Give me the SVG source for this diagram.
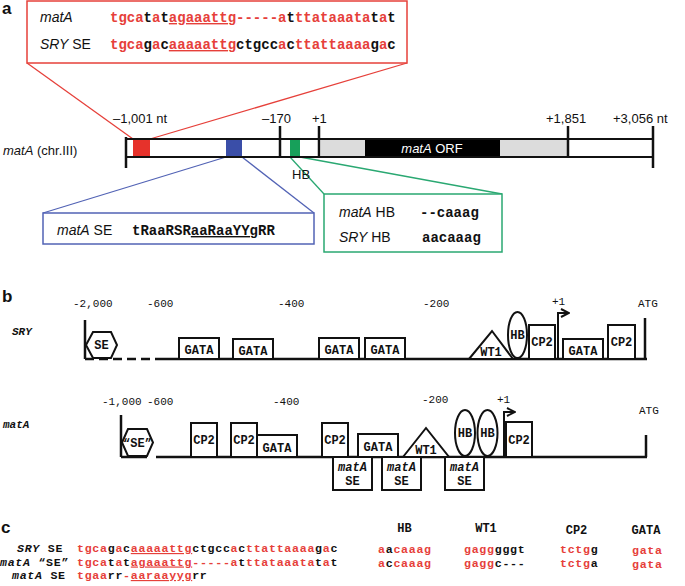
<svg xmlns="http://www.w3.org/2000/svg" width="685" height="586" viewBox="0 0 685 586">
<defs>
<style>
.sa{font-family:"Liberation Sans",Arial,sans-serif}
.mono{font-family:"Liberation Mono","Courier New",monospace}
.b{font-weight:bold}
.i{font-style:italic}
.r{fill:#e6403a}
.k{fill:#111}
.u{text-decoration:underline}
.sh{fill:#fff;stroke:#111;stroke-width:2}
.ax{stroke:#111;stroke-width:2.5;fill:none}
.tk{stroke:#111;stroke-width:2.5}
.bl{font-family:"Liberation Mono","Courier New",monospace;font-weight:bold;font-size:12px;fill:#111;text-anchor:middle}
.pos{font-family:"Liberation Mono","Courier New",monospace;font-size:11px;fill:#111}
.lab{font-family:"Liberation Sans",Arial,sans-serif;font-size:13px;fill:#111}
.cs{font-family:"Liberation Mono","Courier New",monospace;font-weight:bold;font-size:11.6px;letter-spacing:0.72px}
</style>
<marker id="arr" viewBox="0 0 10 10" refX="8" refY="5" markerWidth="10" markerHeight="10" markerUnits="userSpaceOnUse" orient="auto">
<path d="M1,1 L9,5 L1,9" fill="none" stroke="#111" stroke-width="2"/>
</marker>
</defs>
<rect width="685" height="586" fill="#fff"/>

<!-- Panel a -->
<text x="2" y="14" class="sa b" font-size="17" fill="#111">a</text>

<g id="connectors">
<line x1="27" y1="63" x2="133" y2="139" stroke="#e6403a" stroke-width="1.3"/>
<line x1="407" y1="63" x2="150" y2="139" stroke="#e6403a" stroke-width="1.3"/>
<line x1="43" y1="213" x2="226" y2="157" stroke="#5263b5" stroke-width="1.3"/>
<line x1="314" y1="213" x2="242" y2="157" stroke="#5263b5" stroke-width="1.3"/>
<line x1="324" y1="194" x2="290" y2="157" stroke="#2aa872" stroke-width="1.3"/>
<line x1="502" y1="194" x2="300" y2="157" stroke="#2aa872" stroke-width="1.3"/>
</g>

<g id="redBox">
<rect x="27" y="1" width="380" height="62" fill="#fff" stroke="#e6403a" stroke-width="1.5"/>
<text x="40" y="22" class="sa i" font-size="14" fill="#111">matA</text>
<text x="40" y="49" class="sa" font-size="14" fill="#111"><tspan class="i">SRY</tspan> SE</text>
<text x="110" y="22" class="mono b" font-size="14"><tspan class="r">tgca</tspan><tspan class="k">t</tspan><tspan class="r">a</tspan><tspan class="k">t</tspan><tspan class="r u">agaaattg</tspan><tspan class="r">-----a</tspan><tspan class="k">t</tspan><tspan class="r">ttataaata</tspan><tspan class="k">t</tspan><tspan class="r">a</tspan><tspan class="k">t</tspan></text>
<text x="110" y="49" class="mono b" font-size="14"><tspan class="r">tgca</tspan><tspan class="k">g</tspan><tspan class="r">a</tspan><tspan class="k">c</tspan><tspan class="r u">aaaaattg</tspan><tspan class="k">ctgcc</tspan><tspan class="r">a</tspan><tspan class="k">c</tspan><tspan class="r">ttattaaaa</tspan><tspan class="k">g</tspan><tspan class="r">a</tspan><tspan class="k">c</tspan></text>
</g>

<g id="matAlocus">
<text x="3" y="155" class="lab"><tspan class="i">matA</tspan> (chr.III)</text>
<rect x="126" y="139" width="527" height="18" fill="#fff" stroke="#111" stroke-width="2"/>
<rect x="321" y="139" width="44" height="18" fill="#dcdcdc"/>
<rect x="365" y="139" width="135" height="18" fill="#000"/>
<rect x="500" y="139" width="68" height="18" fill="#dcdcdc"/>
<rect x="126" y="139" width="527" height="18" fill="none" stroke="#111" stroke-width="2"/>
<text x="432" y="153" class="sa" font-size="13" fill="#fff" text-anchor="middle"><tspan class="i">matA</tspan> ORF</text>
<rect x="133" y="140" width="17" height="16" fill="#e6322b"/>
<rect x="226" y="140" width="16" height="16" fill="#3a4ea8"/>
<rect x="290" y="140" width="10" height="16" fill="#17a05a"/>
<line x1="126" y1="137" x2="126" y2="168" class="tk"/>
<line x1="280" y1="126" x2="280" y2="157" class="tk"/>
<line x1="319" y1="126" x2="319" y2="157" class="tk"/>
<line x1="568" y1="126" x2="568" y2="157" class="tk"/>
<line x1="653" y1="126" x2="653" y2="168" class="tk"/>
<text x="113" y="123" class="lab">–1,001 nt</text>
<text x="262" y="123" class="lab">–170</text>
<text x="312" y="123" class="lab">+1</text>
<text x="546" y="123" class="lab">+1,851</text>
<text x="613" y="123" class="lab">+3,056 nt</text>
<text x="292" y="179" class="lab">HB</text>
</g>

<g id="blueBox">
<rect x="43" y="213" width="271" height="31" fill="#fff" stroke="#5263b5" stroke-width="1.5"/>
<text x="57" y="235" class="sa" font-size="14" fill="#111"><tspan class="i">matA</tspan> SE</text>
<text x="132" y="235" class="mono b" font-size="14" fill="#111">tRaaRSR<tspan class="u">aaRaaYYg</tspan>RR</text>
</g>

<g id="greenBox">
<rect x="324" y="194" width="178" height="58" fill="#fff" stroke="#2aa872" stroke-width="1.5"/>
<text x="339" y="217" class="sa" font-size="14" fill="#111"><tspan class="i">matA</tspan> HB</text>
<text x="339" y="242" class="sa" font-size="14" fill="#111"><tspan class="i">SRY</tspan> HB</text>
<text x="420" y="217" class="mono b" font-size="14" fill="#111">--caaag</text>
<text x="422" y="242" class="mono b" font-size="14" fill="#111">aacaaag</text>
</g>

<!-- Panel b -->
<text x="2" y="302" class="sa b" font-size="17" fill="#111">b</text>

<g id="SRYpromoter">
<text x="12" y="335" class="mono b i" font-size="11" fill="#111">SRY</text>
<text x="73" y="307" class="pos">-2,000</text>
<text x="147" y="307" class="pos">-600</text>
<text x="278" y="307" class="pos">-400</text>
<text x="423" y="307" class="pos">-200</text>
<text x="552" y="305" class="pos">+1</text>
<text x="638" y="307" class="pos">ATG</text>
<line x1="85" y1="320" x2="85" y2="359" class="tk"/>
<line x1="85" y1="359" x2="153" y2="359" class="ax" stroke-dasharray="9,5"/>
<line x1="155" y1="359" x2="647" y2="359" class="ax"/>
<line x1="645" y1="318" x2="645" y2="359" class="tk"/>
<polygon points="86,345 93,332 111,332 117,345 111,358 93,358" class="sh"/>
<text x="101.5" y="349" class="bl" font-size="11">SE</text>
<rect x="179" y="338" width="40" height="21" class="sh"/><text x="199" y="354" class="bl">GATA</text>
<rect x="233" y="339" width="40" height="20" class="sh"/><text x="253" y="355" class="bl">GATA</text>
<rect x="319" y="338" width="40" height="21" class="sh"/><text x="339" y="354" class="bl">GATA</text>
<rect x="365" y="338" width="40" height="21" class="sh"/><text x="385" y="354" class="bl">GATA</text>
<polygon points="469,359 492,331 513,359" class="sh"/><text x="491" y="356" class="bl" font-size="11">WT1</text>
<ellipse cx="517.5" cy="335" rx="9.5" ry="23" class="sh"/><text x="517.5" y="339" class="bl" font-size="10.5">HB</text>
<rect x="529" y="325" width="26" height="34" class="sh"/><text x="542" y="346" class="bl" font-size="11">CP2</text>
<path d="M558,359 V313 H568" fill="none" stroke="#111" stroke-width="2" marker-end="url(#arr)"/>
<rect x="563" y="339" width="40" height="20" class="sh"/><text x="583" y="355" class="bl">GATA</text>
<rect x="608" y="325" width="27" height="34" class="sh"/><text x="621.5" y="346" class="bl" font-size="11">CP2</text>
</g>

<g id="matApromoter">
<text x="3" y="428" class="mono b i" font-size="11" fill="#111">matA</text>
<text x="102" y="405" class="pos">-1,000</text>
<text x="147" y="405" class="pos">-600</text>
<text x="273" y="405" class="pos">-400</text>
<text x="422" y="403" class="pos">-200</text>
<text x="497" y="403" class="pos">+1</text>
<text x="639" y="414" class="pos">ATG</text>
<line x1="121" y1="415" x2="121" y2="457" class="tk"/>
<line x1="121" y1="457" x2="147" y2="457" class="ax"/>
<line x1="156" y1="457" x2="647" y2="457" class="ax"/>
<line x1="646" y1="435" x2="646" y2="457" class="tk"/>
<polygon points="122,442.5 128,429 147,429 153,442.5 147,456 128,456" class="sh"/>
<text x="137.5" y="447" class="bl" font-size="10.5">“SE”</text>
<rect x="191" y="423" width="26" height="34" class="sh"/><text x="204" y="444" class="bl" font-size="11">CP2</text>
<rect x="231" y="423" width="26" height="34" class="sh"/><text x="244" y="444" class="bl" font-size="11">CP2</text>
<rect x="257" y="435" width="40" height="22" class="sh"/><text x="277" y="452" class="bl">GATA</text>
<rect x="322" y="423" width="26" height="34" class="sh"/><text x="335" y="444" class="bl" font-size="11">CP2</text>
<rect x="358" y="434" width="40" height="23" class="sh"/><text x="378" y="451" class="bl">GATA</text>
<polygon points="403,457 426,428 449,457" class="sh"/><text x="426" y="454" class="bl" font-size="11">WT1</text>
<ellipse cx="465" cy="433" rx="10" ry="23" class="sh"/><text x="465" y="437" class="bl" font-size="10.5">HB</text>
<ellipse cx="487.5" cy="433" rx="10" ry="23" class="sh"/><text x="487.5" y="437" class="bl" font-size="10.5">HB</text>
<path d="M504,457 V412 H514" fill="none" stroke="#111" stroke-width="2" marker-end="url(#arr)"/>
<rect x="506" y="422" width="26" height="35" class="sh"/><text x="519" y="444" class="bl" font-size="11">CP2</text>
</g>

<g id="matASEboxes">
<rect x="333" y="457" width="39" height="33" class="sh"/>
<text x="352.5" y="471" class="bl i" font-size="11">matA</text><text x="352.5" y="485" class="bl" font-size="11">SE</text>
<rect x="382" y="457" width="39" height="33" class="sh"/>
<text x="401.5" y="471" class="bl i" font-size="11">matA</text><text x="401.5" y="485" class="bl" font-size="11">SE</text>
<rect x="445" y="457" width="39" height="33" class="sh"/>
<text x="464.5" y="471" class="bl i" font-size="11">matA</text><text x="464.5" y="485" class="bl" font-size="11">SE</text>
</g>

<!-- Panel c -->
<text x="1" y="533" class="sa b" font-size="17" fill="#111">c</text>
<g id="alignment">
<text x="17" y="552" class="cs" fill="#111"><tspan class="i">SRY</tspan> SE</text>
<text x="0" y="565.5" class="cs" fill="#111"><tspan class="i">matA</tspan> “SE”</text>
<text x="12" y="579" class="cs" fill="#111"><tspan class="i">matA</tspan> SE</text>
<text x="77" y="552" class="cs"><tspan class="r">tgca</tspan><tspan class="k">g</tspan><tspan class="r">a</tspan><tspan class="k">c</tspan><tspan class="r u">aaaaattg</tspan><tspan class="k">ctgcc</tspan><tspan class="r">a</tspan><tspan class="k">c</tspan><tspan class="r">ttattaaaa</tspan><tspan class="k">g</tspan><tspan class="r">a</tspan><tspan class="k">c</tspan></text>
<text x="77" y="565.5" class="cs"><tspan class="r">tgca</tspan><tspan class="k">t</tspan><tspan class="r">a</tspan><tspan class="k">t</tspan><tspan class="r u">agaaattg</tspan><tspan class="r">-----a</tspan><tspan class="k">t</tspan><tspan class="r">ttataaata</tspan><tspan class="k">t</tspan><tspan class="r">a</tspan><tspan class="k">t</tspan></text>
<text x="77" y="579" class="cs"><tspan class="r">tgaa</tspan><tspan class="k">rr</tspan><tspan class="r">-</tspan><tspan class="r u">aaraayyg</tspan><tspan class="k">rr</tspan></text>
</g>

<g id="motifs">
<text x="404.5" y="532" class="bl" font-size="11">HB</text>
<text x="486" y="532" class="bl" font-size="11">WT1</text>
<text x="576.5" y="534" class="bl" font-size="11">CP2</text>
<text x="646" y="534" class="bl" font-size="11">GATA</text>
<text x="378" y="553" class="cs"><tspan class="r">a</tspan><tspan class="k">a</tspan><tspan class="r">caaag</tspan></text>
<text x="378" y="567" class="cs"><tspan class="r">a</tspan><tspan class="k">c</tspan><tspan class="r">caaag</tspan></text>
<text x="464" y="553" class="cs"><tspan class="r">gagg</tspan><tspan class="k">gggt</tspan></text>
<text x="464" y="567" class="cs"><tspan class="r">gagg</tspan><tspan class="k">c---</tspan></text>
<text x="560" y="553" class="cs"><tspan class="r">tctg</tspan><tspan class="k">g</tspan></text>
<text x="560" y="567" class="cs"><tspan class="r">tctg</tspan><tspan class="k">a</tspan></text>
<text x="632" y="554" class="cs r">gata</text>
<text x="632" y="568" class="cs r">gata</text>
</g>
</svg>
